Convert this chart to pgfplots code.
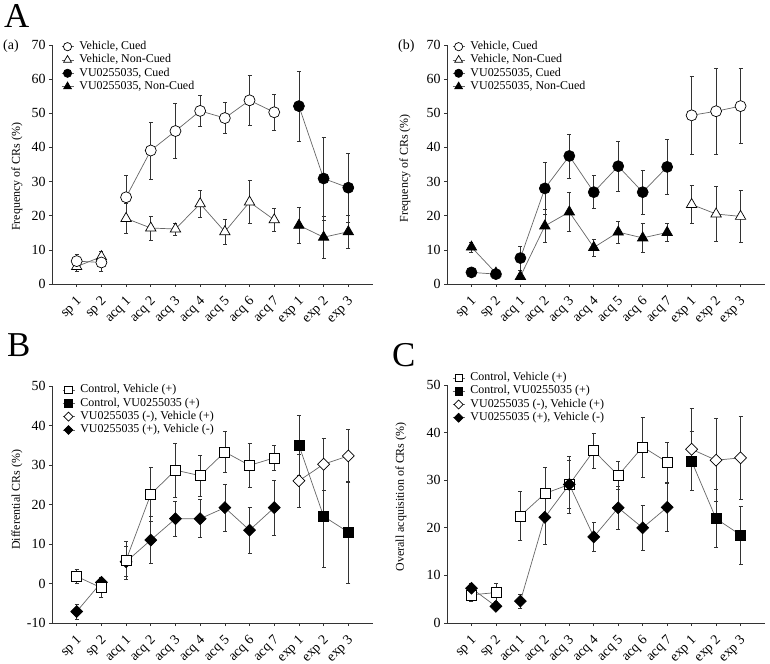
\documentclass[border=0pt]{standalone}
\usepackage{graphicx}
\usepackage{fontspec}
\setmainfont{Liberation Serif}
\usepackage{pgfplots}
\pgfplotsset{compat=1.18}
\newcommand{\rl}[1]{\rotatebox{45}{#1}}

\pgfplotsset{
  panel/.style={
    scale only axis,
    axis x line*=bottom, axis y line*=left,
    axis line style={black!80, line width=0.8bp},
    xmin=-1, xmax=12,
    xtick={0,...,11},
    xticklabels={},
    extra x ticks={0.3,1.3,2.3,3.3,4.3,5.3,6.3,7.3,8.3,9.3,10.3,11.3},
    extra x tick labels={\rl{sp 1}, \rl{sp 2}, \rl{acq 1}, \rl{acq 2}, \rl{acq 3}, \rl{acq 4}, \rl{acq 5}, \rl{acq 6}, \rl{acq 7}, \rl{exp 1}, \rl{exp 2}, \rl{exp 3}},
    extra x tick style={major tick length=0pt, xticklabel shift=11bp},
    tick align=outside, major tick length=3bp,
    tick style={black!80, line width=0.6bp},
    x tick label style={anchor=north east, font=\fontsize{14}{14}\selectfont, inner sep=0bp},
    y tick label style={font=\fontsize{14}{14}\selectfont},
    /pgf/number format/assume math mode=true,
    legend style={draw=none, fill=none, font=\fontsize{12}{12}\selectfont, anchor=north west, inner sep=0pt,
      nodes={inner sep=0pt, text height=9bp, text depth=3.5bp}, row sep=0.8bp, column sep=5.5bp, cells={anchor=west}},
    legend image code/.code={\draw[mark repeat=2,mark phase=2, every mark/.append style={scale=0.75}] plot coordinates {(0bp,0bp)(6bp,0bp)(12bp,0bp)};},
    unbounded coords=jump,
    error bars/y dir=both, error bars/y explicit,
    error bars/error bar style={black!80, line width=0.6bp},
    error bars/error mark options={rotate=90, mark size=2bp, black!80, line width=0.6bp},
  },
  oc/.style={black!60, line width=0.7bp, mark=*, mark size=5.5bp, mark options={draw=black, fill=white, solid, line width=0.7bp}},
  fc/.style={black!60, line width=0.7bp, mark=*, mark size=5.5bp, mark options={draw=black, fill=black, solid, line width=0.7bp}},
  ot/.style={black!60, line width=0.7bp, mark=triangle*, mark size=6bp, mark options={draw=black, fill=white, solid, line width=0.7bp}},
  ft/.style={black!60, line width=0.7bp, mark=triangle*, mark size=6bp, mark options={draw=black, fill=black, solid, line width=0.7bp}},
  os/.style={black!60, line width=0.7bp, mark=square*, mark size=5bp, mark options={draw=black, fill=white, solid, line width=0.7bp}},
  fs/.style={black!60, line width=0.7bp, mark=square*, mark size=5bp, mark options={draw=black, fill=black, solid, line width=0.7bp}},
  od/.style={black!60, line width=0.7bp, mark=square*, mark size=4.2bp, mark options={draw=black, fill=white, solid, line width=0.7bp, rotate=45}},
  fd/.style={black!60, line width=0.7bp, mark=square*, mark size=4.2bp, mark options={draw=black, fill=black, solid, line width=0.7bp, rotate=45}},
}

\begin{document}
\begin{tikzpicture}
\path[use as bounding box] (0bp,0bp) rectangle (770bp,664bp);

% ---------------- Panel A (a)
\begin{axis}[panel, at={(52bp,380bp)}, anchor=south west, width=321bp, height=239bp,
  ymin=0, ymax=70, ytick={0,10,...,70},
  ylabel={Frequency of CRs (\%)},
  ylabel style={at={(axis description cs:-0.109,0.448)}, anchor=center, font=\fontsize{12}{12}\selectfont},
  legend style={at={(axis description cs:0.028,1.02)}}]
\addlegendimage{oc}\addlegendentry{Vehicle, Cued}
\addlegendimage{ot}\addlegendentry{Vehicle, Non-Cued}
\addlegendimage{fc}\addlegendentry{VU0255035, Cued}
\addlegendimage{ft}\addlegendentry{VU0255035, Non-Cued}
\addplot[ot, forget plot] table[x=x, y=y, y error=e] {
x y e
0 5.1 1.5
1 8.0 1.6
1.5 nan 0
2 19.2 4.3
3 16.4 3.5
4 16.1 1.8
5 23.5 3.9
6 15.3 3.7
7 24.0 6.3
8 18.8 3.4
};
\addplot[oc, forget plot] table[x=x, y=y, y error=e] {
x y e
0 6.7 2.0
1 6.3 2.5
1.5 nan 0
2 25.4 6.3
3 39.1 8.3
4 44.8 8.0
5 50.7 4.5
6 48.6 4.6
7 53.8 7.4
8 50.3 5.3
};
\addplot[ft, forget plot] table[x=x, y=y, y error=e] {
x y e
9 17.2 5.2
10 13.7 6.2
11 15.3 4.7
};
\addplot[fc, forget plot] table[x=x, y=y, y error=e] {
x y e
9 52.1 10.3
10 30.9 12.2
11 28.2 10.2
};
\end{axis}

% ---------------- Panel A (b)
\begin{axis}[panel, at={(447bp,380bp)}, anchor=south west, width=318bp, height=239bp,
  ymin=0, ymax=70, ytick={0,10,...,70},
  ylabel={Frequency of CRs (\%)},
  ylabel style={at={(axis description cs:-0.132,0.485)}, anchor=center, font=\fontsize{12}{12}\selectfont},
  legend style={at={(axis description cs:0.016,1.02)}}]
\addlegendimage{oc}\addlegendentry{Vehicle, Cued}
\addlegendimage{ot}\addlegendentry{Vehicle, Non-Cued}
\addlegendimage{fc}\addlegendentry{VU0255035, Cued}
\addlegendimage{ft}\addlegendentry{VU0255035, Non-Cued}
\addplot[ft, forget plot] table[x=x, y=y, y error=e] {
x y e
0 10.8 1.4
1 3.2 0.5
1.5 nan 0
2 2.2 0.5
3 17.0 4.9
4 21.1 5.8
5 10.7 2.5
6 15.2 3.3
7 13.5 4.3
8 15.1 2.6
};
\addplot[fc, forget plot] table[x=x, y=y, y error=e] {
x y e
0 3.4 0.6
1 2.9 0.5
1.5 nan 0
2 7.6 3.5
3 28.0 7.6
4 37.5 6.4
5 26.9 4.8
6 34.5 7.3
7 26.9 6.5
8 34.3 8.1
};
\addplot[ot, forget plot] table[x=x, y=y, y error=e] {
x y e
9 23.3 5.6
10 20.5 8.0
11 19.8 7.6
};
\addplot[oc, forget plot] table[x=x, y=y, y error=e] {
x y e
9 49.4 11.4
10 50.6 12.7
11 52.1 11.0
};
\end{axis}

% ---------------- Panel B
\begin{axis}[panel, at={(52bp,41bp)}, anchor=south west, width=321bp, height=237bp,
  ymin=-10, ymax=50, ytick={-10,0,...,50},
  ylabel={Differential CRs (\%)},
  ylabel style={at={(axis description cs:-0.109,0.52)}, anchor=center, font=\fontsize{12}{12}\selectfont},
  legend style={at={(axis description cs:0.031,1.01)}}]
\addlegendimage{os}\addlegendentry{Control, Vehicle (+)}
\addlegendimage{fs}\addlegendentry{Control, VU0255035 (+)}
\addlegendimage{od}\addlegendentry{VU0255035 (-), Vehicle (+)}
\addlegendimage{fd}\addlegendentry{VU0255035 (+), Vehicle (-)}
\addplot[fd, forget plot] table[x=x, y=y, y error=e] {
x y e
0 -7.1 1.9
1 0.3 1.2
1.5 nan 0
2 5.5 3.8
3 11.0 6.0
4 16.4 4.5
5 16.4 4.8
6 19.2 6.0
7 13.5 5.8
8 19.2 7.0
};
\addplot[os, forget plot] table[x=x, y=y, y error=e] {
x y e
0 1.8 1.7
1 -1.1 2.3
1.5 nan 0
2 5.9 4.9
3 22.6 6.8
4 28.7 6.8
5 27.3 5.1
6 33.3 5.2
7 29.9 5.5
8 31.8 3.2
};
\addplot[od, forget plot] table[x=x, y=y, y error=e] {
x y e
9 26.0 6.8
10 30.2 6.6
11 32.3 6.8
};
\addplot[fs, forget plot] table[x=x, y=y, y error=e] {
x y e
9 35.0 7.6
10 17.0 12.9
11 13.0 13.0
};
\end{axis}

% ---------------- Panel C
\begin{axis}[panel, at={(447bp,41bp)}, anchor=south west, width=318bp, height=238bp,
  ymin=0, ymax=50, ytick={0,10,...,50},
  ylabel={Overall acquisition of CRs (\%)},
  ylabel style={at={(axis description cs:-0.145,0.53)}, anchor=center, font=\fontsize{12}{12}\selectfont},
  legend style={at={(axis description cs:0.016,1.057)}}]
\addlegendimage{os}\addlegendentry{Control, Vehicle (+)}
\addlegendimage{fs}\addlegendentry{Control, VU0255035 (+)}
\addlegendimage{od}\addlegendentry{VU0255035 (-), Vehicle (+)}
\addlegendimage{fd}\addlegendentry{VU0255035 (+), Vehicle (-)}
\addplot[os, forget plot] table[x=x, y=y, y error=e] {
x y e
0 5.9 1.3
1 6.4 1.9
1.5 nan 0
2 22.5 5.1
3 27.2 5.5
4 29.1 5.0
5 36.2 3.7
6 31.0 3.0
7 37.0 6.3
8 33.8 4.2
};
\addplot[fd, forget plot] table[x=x, y=y, y error=e] {
x y e
0 7.3 1.0
1 3.5 0.8
1.5 nan 0
2 4.6 1.5
3 22.2 5.7
4 29.1 6.0
5 18.1 3.0
6 24.2 4.6
7 20.0 4.7
8 24.3 5.0
};
\addplot[od, forget plot] table[x=x, y=y, y error=e] {
x y e
9 36.5 8.7
10 34.2 8.7
11 34.7 8.8
};
\addplot[fs, forget plot] table[x=x, y=y, y error=e] {
x y e
9 34.0 6.2
10 21.9 6.1
11 18.5 6.1
};
\end{axis}

% panel letters
\node[anchor=base west, inner sep=0pt, font=\fontsize{35}{35}\selectfont] at (4bp,636bp) {A};
\node[anchor=base west, inner sep=0pt, font=\fontsize{35}{35}\selectfont] at (7bp,307bp) {B};
\node[anchor=base west, inner sep=0pt, font=\fontsize{35}{35}\selectfont] at (392bp,297bp) {C};
\node[anchor=west, inner sep=0pt, font=\fontsize{14}{14}\selectfont] at (3bp,618bp) {(a)};
\node[anchor=west, inner sep=0pt, font=\fontsize{14}{14}\selectfont] at (398bp,618bp) {(b)};
\end{tikzpicture}
\end{document}
